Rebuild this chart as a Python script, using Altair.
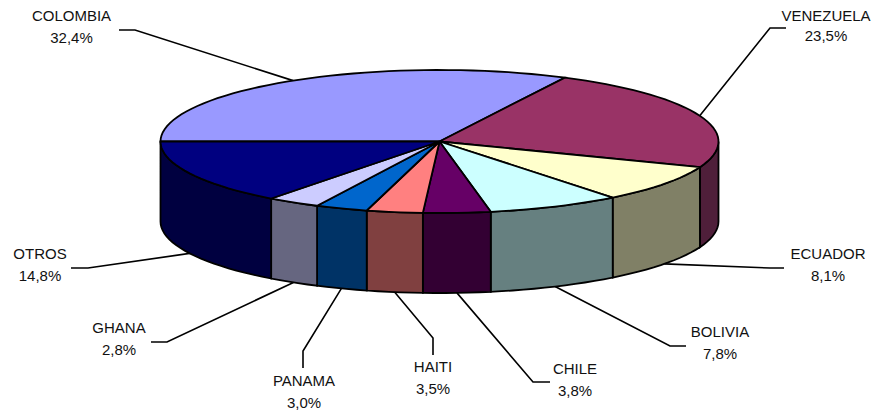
import math
import altair as alt
import pandas as pd

names = ["COLOMBIA", "VENEZUELA", "ECUADOR", "BOLIVIA", "CHILE", "HAITI", "PANAMA", "GHANA", "OTROS"]
percent_labels = ["32,4%", "23,5%", "8,1%", "7,8%", "3,8%", "3,5%", "3,0%", "2,8%", "14,8%"]
# slice sizes as drawn in the picture (percent of the full turn, read from the slice edges)
drawn_share = [32.42, 23.42, 8.5, 7.72, 3.89, 3.25, 3.03, 3.08, 14.69]
top_colors = ["#9999FF", "#993366", "#FFFFCC", "#CCFFFF", "#660066", "#FF8080", "#0066CC", "#CCCCFF", "#000080"]
side_colors = ["#4C1933", "#4F1F3A", "#808066", "#668080", "#330033", "#804040", "#003366", "#666680", "#000040"]
label_x = [71.5, 826, 828, 720, 575, 433, 304, 119, 40]
name_y = [16, 16, 254, 332, 369, 367, 381, 328, 254]
pct_y = [38, 36, 276, 354, 391, 389, 403, 350, 276]
elbow_x = [135, 770, 770, 670, 533, 433, 303, 167, 88]
elbow_y = [30, 28, 268, 346, 382, 338, 351, 342, 268]
end_x = [119, 786, 784, 686, 550, 433, 303, 151, 71]
end_y = [30, 28, 268, 346, 382, 355, 368, 342, 268]

CX, CY, A, B, DEPTH = 439.5, 141.5, 279, 71.5, 80
W, H = 868, 402
xs = alt.Scale(domain=[8, 8 + W], range=[0, W], nice=False, zero=False)
ys = alt.Scale(domain=[8, 8 + H], range=[0, H], nice=False, zero=False)
X = alt.X("x:Q", scale=xs, axis=None)
Y = alt.Y("y:Q", scale=ys, axis=None)


def pt(deg, drop=0):
    r = math.radians(deg)
    return CX + A * math.cos(r), CY - B * math.sin(r) + drop


def arc(a0, a1, drop=0):
    n = max(2, int(abs(a0 - a1) / 2.5) + 1)
    return [pt(a0 + (a1 - a0) * k / n, drop) for k in range(n + 1)]


total = sum(drawn_share)
mids = []
angle = 180.0
sides = []
tops = []
for i, v in enumerate(drawn_share):
    end = angle - v / total * 360
    mids.append((angle + end) / 2)
    if end < 0:
        a0 = min(angle, 0)
        rows = [{"x": x, "y": y, "y2": y + DEPTH} for x, y in arc(a0, end)]
        sides.append(
            alt.Chart(pd.DataFrame(rows))
            .mark_area(fill=side_colors[i], stroke="black", strokeWidth=1.8, interpolate="linear", orient="vertical")
            .encode(x=X, y=Y, y2="y2:Q")
        )
    pts = [(CX, CY)] + arc(angle, end) + [(CX, CY)]
    rows = [{"x": x, "y": y, "o": k} for k, (x, y) in enumerate(pts)]
    tops.append(
        alt.Chart(pd.DataFrame(rows))
        .mark_line(fill=top_colors[i], stroke="black", strokeWidth=1.8, interpolate="linear")
        .encode(x=X, y=Y, order="o:O")
    )
    angle = end

# leader lines start on the rim at each slice's middle angle
leader_rows = []
for i, m in enumerate(mids):
    norm = ((m + 180) % 360) - 180
    ax, ay = pt(m, DEPTH if norm < 0 else 0)
    for k, (x, y) in enumerate([(ax, ay), (elbow_x[i], elbow_y[i]), (end_x[i], end_y[i])]):
        leader_rows.append({"x": x, "y": y, "o": k, "name": names[i]})
leaders = (
    alt.Chart(pd.DataFrame(leader_rows))
    .mark_line(color="black", strokeWidth=1.6)
    .encode(x=X, y=Y, order="o:O", detail="name:N")
)

label_rows = []
for i, n in enumerate(names):
    label_rows.append({"x": label_x[i], "y": name_y[i], "t": n})
    label_rows.append({"x": label_x[i], "y": pct_y[i], "t": percent_labels[i]})
labels = (
    alt.Chart(pd.DataFrame(label_rows))
    .mark_text(font="Liberation Sans", fontSize=15, color="#111111", align="center", baseline="middle")
    .encode(x=X, y=Y, text="t:N")
)

chart = (
    alt.layer(leaders, *sides, *tops, labels)
    .properties(width=W, height=H, padding=0, autosize=alt.AutoSizeParams(type="none"))
    .configure_view(stroke=None)
)
chart.save("out.html", embed_options={"renderer": "svg", "actions": False})
